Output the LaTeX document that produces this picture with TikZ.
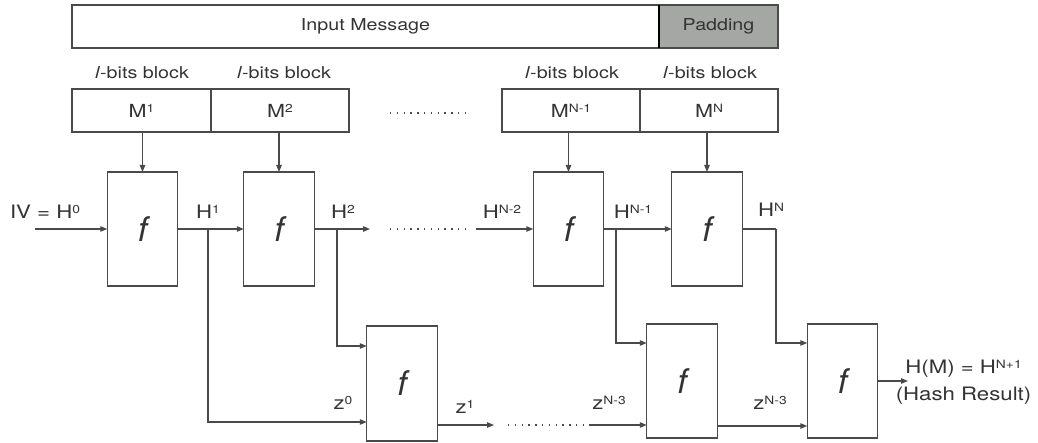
\documentclass[tikz,border=0pt]{standalone}
\usepackage{fontspec}
\setmainfont{TeX Gyre Heros}
\newfontfamily\widesans[FakeStretch=1.2]{TeX Gyre Heros}
\usetikzlibrary{arrows.meta,calc}
\definecolor{ink}{HTML}{333333}
\definecolor{edge}{HTML}{4A4A4A}
\definecolor{padgrey}{HTML}{A5A7A5}
% raised small text for indices
\newcommand\sps[1]{\raisebox{5pt}{\fontsize{11.5}{13}\selectfont #1}}

\begin{document}
\begin{tikzpicture}[x=1pt,y=-1pt,
  every node/.style={text=ink,font=\widesans\fontsize{18.5}{22}\selectfont,inner sep=0pt,outer sep=0pt},
  blk/.style={draw=edge,line width=1.1pt,anchor=center},
  small/.style={font=\widesans\fontsize{16.4}{20}\selectfont},
  mid/.style={font=\widesans\fontsize{18}{22}\selectfont},
  fbox/.style={blk,minimum width=70.5pt,minimum height=114pt,font=\fontsize{34}{36}\selectfont\itshape},
  wire/.style={draw=edge,line width=1.1pt},
  arr/.style={wire,-{Triangle[length=7pt,width=5.5pt]}},
  dotrow/.style={draw=edge,line width=1.4pt,dash pattern=on 1.4pt off 5.4pt},
  lbl/.style={anchor=center}]
\useasboundingbox (0,0) rectangle (1038,443);

% message bar
\node[blk,small,minimum width=587pt,minimum height=43pt] (msg) at (365.5,26.5) {Input Message};
\node[blk,small,fill=padgrey,minimum width=119pt,minimum height=43pt] (pad) at (718.5,26.5) {Padding};
\draw[black,line width=1.4pt] (msg.north east) -- (msg.south east);

% message blocks
\node[blk,mid,minimum width=139pt,minimum height=43pt] (m1) at (141.5,110.5) {M\sps{1}};
\node[blk,mid,minimum width=138pt,minimum height=43pt] (m2) at (280,110.5) {M\sps{2}};
\node[blk,mid,minimum width=138pt,minimum height=43pt] (mn1) at (571,110.5) {M\sps{N-1}};
\node[blk,mid,minimum width=138pt,minimum height=43pt] (mn) at (709,110.5) {M\sps{N}};
\draw[dotrow] (390,113) -- (467,113);

\node[lbl,small] (b1) at (142,73) {\textit{l}-bits block};
\node[lbl,small] (b2) at (284,73) {\textit{l}-bits block};
\node[lbl,small] (b3) at (572,73) {\textit{l}-bits block};
\node[lbl,small] (b4) at (710,73) {\textit{l}-bits block};

% compression function boxes
\node[fbox] (f1) at (142.5,229) {f};
\node[fbox] (f2) at (279,229) {f};
\node[fbox] (f3) at (568.5,229) {f};
\node[fbox] (f4) at (707,229) {f};
\node[fbox,minimum height=115pt] (f5) at (402,383.5) {f};
\node[fbox] (f6) at (682,381) {f};
\node[fbox] (f7) at (842.5,381) {f};

% block inputs
\draw[arr] (f1.north |- m1.south) -- (f1.north);
\draw[arr] (f2.north |- m2.south) -- (f2.north);
\draw[arr] (f3.north |- mn1.south) -- (f3.north);
\draw[arr] (f4.north |- mn.south) -- (f4.north);

% chaining values
\coordinate (iv) at (35,229);
\coordinate (h2end) at (370,229);
\coordinate (hn2start) at (476,229);
\coordinate (t1) at (208,229);
\coordinate (t2) at (337,229);
\coordinate (t3) at (616,229);
\coordinate (t4) at (776,229);
\draw[arr] (iv) -- (f1.west);
\draw[arr] (f1.east) -- (f2.west);
\draw[arr] (f2.east) -- (h2end);
\draw[dotrow] (390,229) -- (467,229);
\draw[arr] (hn2start) -- (f3.west);
\draw[arr] (f3.east) -- (f4.west);
\draw[wire] (f4.east) -- (t4);

% branches to the lower row
\draw[arr] (t1) |- ($(f5.west)+(0,38.5)$);
\draw[arr] (t2) |- ($(f5.west)+(0,-37.5)$);
\draw[arr] (t3) |- ($(f6.west)+(0,-38)$);
\draw[arr] (t4) |- ($(f7.west)+(0,-38)$);

% lower chain
\coordinate (z1end) at (494,425);
\coordinate (zn3start) at (589,425);
\coordinate (out) at (908,381);
\draw[arr] ($(f5.east)+(0,41.5)$) -- (z1end);
\draw[dotrow] (508,425) -- (584,425);
\draw[arr] (zn3start) -- ($(f6.west)+(0,44)$);
\draw[arr] ($(f6.east)+(0,45)$) -- ($(f7.west)+(0,45)$);
\draw[arr] (f7.east) -- (out);

% labels
\node[lbl] (liv) at (45,212) {IV = H\sps{0}};
\node[lbl] (lh1) at (208,212) {H\sps{1}};
\node[lbl] (lh2) at (343,212) {H\sps{2}};
\node[lbl] (lhn2) at (502,212) {H\sps{N-2}};
\node[lbl] (lhn1) at (633,212) {H\sps{N-1}};
\node[lbl] (lhn) at (771,210) {H\sps{N}};
\node[lbl] (lz0) at (343,403) {z\sps{0}};
\node[lbl] (lz1) at (465,407) {z\sps{1}};
\node[lbl] (lzn3a) at (609,403) {z\sps{N-3}};
\node[lbl] (lzn3b) at (770,403) {z\sps{N-3}};
\node[lbl,align=center] (res) at (963.5,382) {H(M) = H\sps{N+1}\\[5pt](Hash Result)};
\end{tikzpicture}
\end{document}
